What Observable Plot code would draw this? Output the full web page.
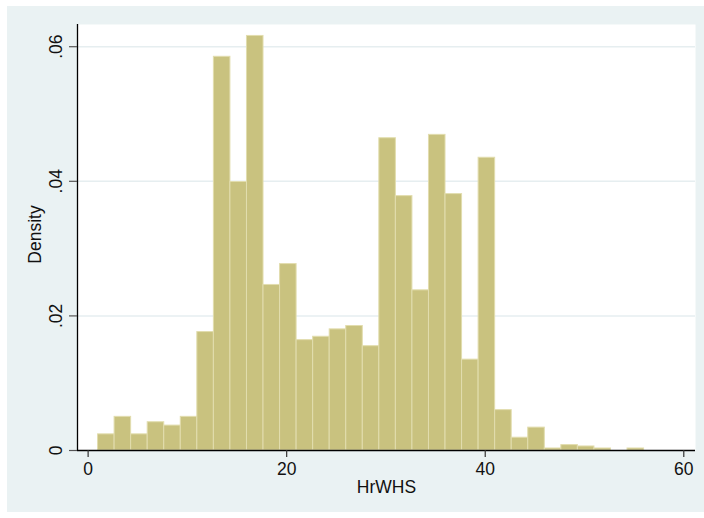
<!DOCTYPE html>
<html>
<head>
<meta charset="utf-8">
<script src="https://cdn.jsdelivr.net/npm/d3@7"></script>
<script src="https://cdn.jsdelivr.net/npm/@observablehq/plot@0.6"></script>
<style>
  html, body { margin: 0; padding: 0; background: #ffffff; }
  #wrap { padding: 6px 0 0 7px; }
  svg { display: block; }
</style>
</head>
<body>
<div id="wrap"></div>
<script>
// Bin edges (HrWHS) of the histogram
const binEdges = [1, 2.667, 4.333, 6, 7.667, 9.333, 11, 12.667, 14.333, 16, 17.667,
  19.333, 21, 22.667, 24.333, 26, 27.667, 29.333, 31, 32.667, 34.333, 36, 37.667,
  39.333, 41, 42.667, 44.333, 46, 47.667, 49.333, 51, 52.667, 54.333, 56];
// Density per bin
const density = [0.0024, 0.0050, 0.0024, 0.0042, 0.0037, 0.0050, 0.0176, 0.0585,
  0.0399, 0.0616, 0.0246, 0.0277, 0.0164, 0.0169, 0.0180, 0.0185, 0.0155, 0.0464,
  0.0378, 0.0238, 0.0469, 0.0381, 0.0135, 0.0435, 0.0060, 0.0019, 0.0034, 0.0003,
  0.0008, 0.0006, 0.0003, 0, 0.0003];
const xTicks = [0, 20, 40, 60];
const yTicks = [0, 0.02, 0.04, 0.06];
const xDomain = [-1.07, 61.18];
const yDomain = [0, 0.0633];

const bars = density.map((d, i) => ({x1: binEdges[i], x2: binEdges[i + 1], y: d}));
const yFmt = d => d === 0 ? "0" : d3.format(".2f")(d).replace(/^0/, "");

const chart = Plot.plot({
  width: 697,
  height: 506,
  marginLeft: 70,
  marginTop: 18,
  marginRight: 9,
  marginBottom: 62,
  x: {domain: xDomain, axis: null},
  y: {domain: yDomain, axis: null},
  style: {
    background: "#EAF2F3",
    fontFamily: "'Liberation Sans', Arial, Helvetica, sans-serif",
    fontSize: "17.5px",
    color: "#111"
  },
  marks: [
    Plot.frame({fill: "white", stroke: null}),
    Plot.gridY(yTicks.filter(d => d > 0), {stroke: "#E6EEF0", strokeOpacity: 1, strokeWidth: 1.5}),
    Plot.rectY(bars, {x1: "x1", x2: "x2", y: "y", fill: "#C9C27F", stroke: "#E2DDAE", strokeWidth: 1}),
    Plot.ruleY([yDomain[0]], {stroke: "#000", strokeWidth: 1.3}),
    Plot.ruleX([xDomain[0]], {stroke: "#000", strokeWidth: 1.3}),
    Plot.axisX(xTicks, {tickSize: 7, tickFormat: () => "", label: null, stroke: "#333", strokeWidth: 1.2}),
    Plot.axisY(yTicks, {tickSize: 8, tickFormat: () => "", label: null, stroke: "#555", strokeWidth: 1.2}),
    Plot.text(xTicks, {x: d => d, text: d => String(d), frameAnchor: "bottom", dy: 19, lineAnchor: "middle", fill: "#111"}),
    Plot.text(yTicks, {y: d => d, text: yFmt, frameAnchor: "left", dx: -21, rotate: -90, textAnchor: "middle", lineAnchor: "middle", fill: "#111"}),
    Plot.text(["HrWHS"], {text: d => d, frameAnchor: "bottom", dy: 37, lineAnchor: "middle", fill: "#111"}),
    Plot.text(["Density"], {text: d => d, frameAnchor: "left", dx: -42, dy: -3, rotate: -90, textAnchor: "middle", lineAnchor: "middle", fill: "#111"})
  ]
});
document.getElementById("wrap").appendChild(chart);
</script>
</body>
</html>
